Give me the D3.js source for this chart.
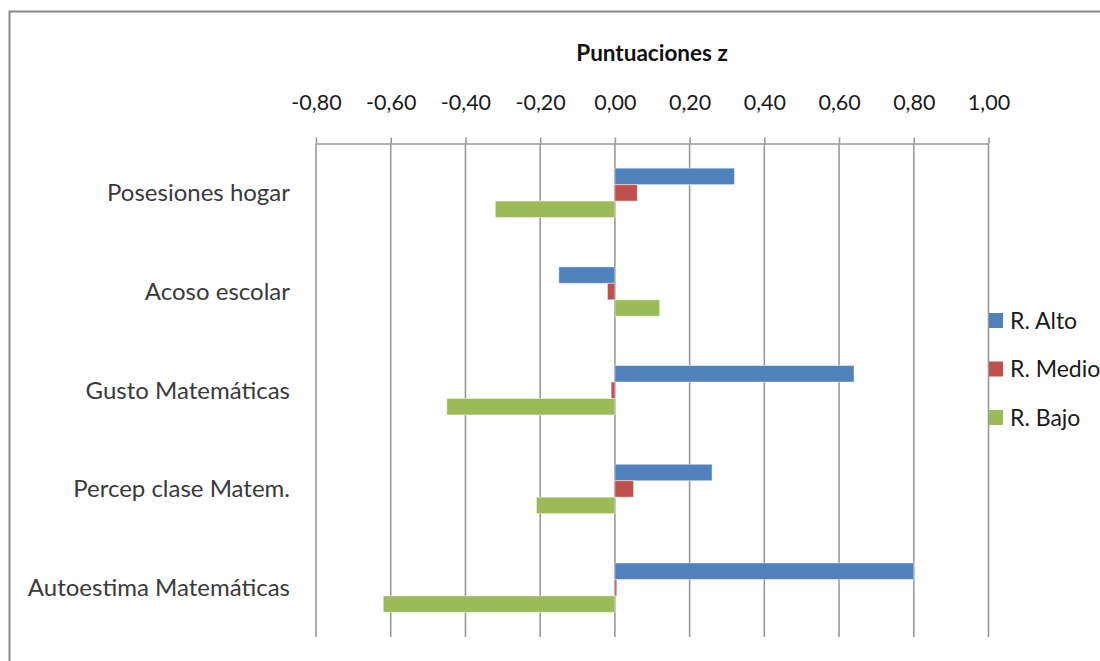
<!DOCTYPE html>
<html>
<head>
<meta charset="utf-8">
<script src="https://cdn.jsdelivr.net/npm/d3@7"></script>
<style>
  body { margin: 0; background: #fff; }
  svg { display: block; font-family: Lato, "Open Sans", sans-serif; }
</style>
</head>
<body>
<div id="chart"></div>
<script>
const categories = ["Posesiones hogar", "Acoso escolar", "Gusto Matemáticas", "Percep clase Matem.", "Autoestima Matemáticas"];
const seriesNames = ["R. Alto", "R. Medio", "R. Bajo"];
const rAlto = [0.32, -0.15, 0.64, 0.26, 0.80];
const rMedio = [0.06, -0.02, -0.01, 0.05, 0.005];
const rBajo = [-0.32, 0.12, -0.45, -0.21, -0.62];
const tickValues = [-0.8, -0.6, -0.4, -0.2, 0, 0.2, 0.4, 0.6, 0.8, 1.0];
const colors = ["#4F81BD", "#C0504D", "#9BBB59"];

const W = 1100, H = 661;
const plot = { left: 316, right: 988.5, top: 143.5, bottom: 637 };

const svg = d3.select("#chart")
  .append("svg")
  .attr("width", W)
  .attr("height", H);

// outer chart border (cut by the window on the right and bottom)
svg.append("rect")
  .attr("x", 9.5).attr("y", 11.5)
  .attr("width", 1200).attr("height", 800)
  .attr("fill", "none")
  .attr("stroke", "#8a8a8a")
  .attr("stroke-width", 2);

const x = d3.scaleLinear()
  .domain([-0.8, 1.0])
  .range([plot.left, plot.right]);

const y = d3.scaleBand()
  .domain(categories)
  .range([plot.top, plot.bottom]);

const y1 = d3.scaleBand()
  .domain(seriesNames)
  .range([y.bandwidth() * 0.25, y.bandwidth() * 0.75]);

// gridlines
svg.append("g")
  .selectAll("line")
  .data(tickValues)
  .enter().append("line")
  .attr("x1", d => x(d)).attr("x2", d => x(d))
  .attr("y1", plot.top).attr("y2", plot.bottom)
  .attr("stroke", "#999")
  .attr("stroke-width", 1.6);

// top value axis
const axis = svg.append("g")
  .attr("transform", `translate(0,${plot.top})`)
  .call(d3.axisTop(x)
    .tickValues(tickValues)
    .tickSizeInner(6)
    .tickSizeOuter(0)
    .tickPadding(28)
    .tickFormat(d => d.toFixed(2).replace(".", ",")));
axis.select(".domain").attr("stroke", "#999").attr("stroke-width", 1.6);
axis.selectAll(".tick line").attr("stroke", "#999").attr("stroke-width", 1.6);
axis.selectAll(".tick text")
  .attr("font-size", 21.5)
  .attr("font-family", "Lato, sans-serif")
  .attr("fill", "#1a1a1a");

// axis title
svg.append("text")
  .attr("x", 652).attr("y", 61)
  .attr("text-anchor", "middle")
  .attr("font-size", 22.5)
  .attr("font-weight", "bold")
  .attr("fill", "#111")
  .text("Puntuaciones z");

// category labels
svg.append("g")
  .selectAll("text")
  .data(categories)
  .enter().append("text")
  .attr("x", 290)
  .attr("y", d => y(d) + y.bandwidth() / 2)
  .attr("dy", "0.35em")
  .attr("text-anchor", "end")
  .attr("font-size", 24)
  .attr("fill", "#3a3a3a")
  .text(d => d);

// bars
const rows = categories.map((c, i) => ({
  category: c,
  values: [rAlto[i], rMedio[i], rBajo[i]]
}));

const groups = svg.append("g")
  .selectAll("g")
  .data(rows)
  .enter().append("g")
  .attr("transform", d => `translate(0,${y(d.category)})`);

groups.selectAll("rect")
  .data(d => d.values.map((v, j) => ({ series: seriesNames[j], value: v, color: colors[j] })))
  .enter().append("rect")
  .attr("x", d => Math.min(x(0), x(d.value)))
  .attr("y", d => y1(d.series))
  .attr("width", d => Math.abs(x(d.value) - x(0)))
  .attr("height", y1.bandwidth())
  .attr("fill", d => d.color)
  .attr("stroke", "rgba(255,255,255,0.45)")
  .attr("stroke-width", 1);

// legend
const legend = svg.append("g")
  .selectAll("g")
  .data(seriesNames)
  .enter().append("g")
  .attr("transform", (d, i) => `translate(989,${313 + i * 48.5})`);

legend.append("rect")
  .attr("width", 14).attr("height", 15)
  .attr("fill", (d, i) => colors[i]);

legend.append("text")
  .attr("x", 21).attr("y", 7.5)
  .attr("dy", "0.35em")
  .attr("font-size", 23)
  .attr("fill", "#1a1a1a")
  .text(d => d);
</script>
</body>
</html>
